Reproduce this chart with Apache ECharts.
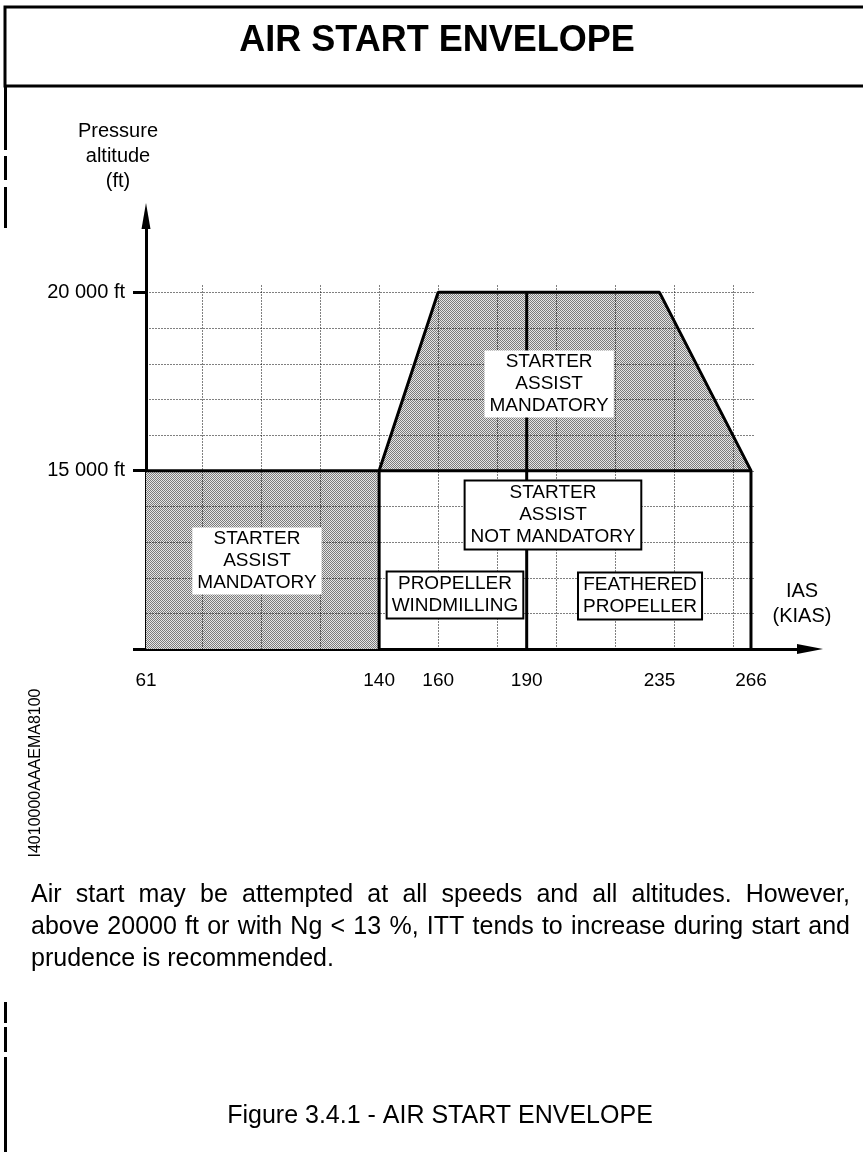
<!DOCTYPE html>
<html><head><meta charset="utf-8">
<script src="https://cdn.jsdelivr.net/npm/echarts@6/dist/echarts.min.js"></script>
<style>html,body{margin:0;padding:0;background:#fff}#c{width:863px;height:1152px}</style>
</head><body><div id="c"></div>
<script>
// ---------------- data ----------------
const xTickValues = [61, 140, 160, 190, 235, 266];          // KIAS tick labels
const yTickAltitudes = [15000, 20000];                       // ft
const yTickLabels = ['15 000 ft', '20 000 ft'];
const xGridKias = [80, 100, 120, 140, 160, 180, 200, 220, 240, 260];
const yGridAltitudes = [3000, 6000, 9000, 12000, 15000, 16000, 17000, 18000, 19000, 20000];
const gridTopAlt = 20250, gridRightKias = 267;
// starter assist mandatory zone (low speed)
const lowZoneKias = [61, 140, 140, 61];
const lowZoneAlt  = [0, 0, 15000, 15000];
// starter assist mandatory zone (high altitude)
const highZoneKias = [140, 160, 235, 266];
const highZoneAlt  = [15000, 20000, 20000, 15000];
// envelope boundaries
const envelopeKias = [140, 140, 160, 235, 266, 266];
const envelopeAlt  = [0, 15000, 20000, 20000, 15000, 0];
const baseLineKias = [61, 266];
const baseLineAlt  = [15000, 15000];
const splitKias = [190, 190];
const splitAlt  = [0, 20000];
// zone labels
const zoneLabelTexts = ['STARTER\nASSIST\nMANDATORY', 'STARTER\nASSIST\nMANDATORY',
  'STARTER\nASSIST\nNOT MANDATORY', 'PROPELLER\nWINDMILLING', 'FEATHERED\nPROPELLER'];
const zoneLabelBoxed = [false, false, true, true, true];
const titleText = 'AIR START ENVELOPE';
const captionText = 'Figure 3.4.1 - AIR START ENVELOPE';
const codeText = 'I4010000AAAEMA8100';
const noteLines = ['Air start may be attempted at all speeds and all altitudes. However,',
  'above 20000 ft or with Ng < 13 %, ITT tends to increase during start and',
  'prudence is recommended.'];

// ---------------- layout ----------------
const layout = {
  labelAnchorKias: [98.6, 197.6, 198.9, 165.7, 228.4],
  labelAnchorAlt: [7400, 17430, 11270, 4540, 4460],
  xMax: 286, yMax: 12.14
};
const FF = '"Liberation Sans", Arial, Helvetica, sans-serif';

// schematic (piecewise) altitude scale: 5 cells below 15 000 ft, 1 000 ft cells above
function altToUnit(a) { return a <= 15000 ? a / 3000 : 5 + (a - 15000) / 1000; }

function makePattern() {
  const c = document.createElement('canvas'); c.width = 4; c.height = 4;
  const g = c.getContext('2d');
  g.fillStyle = '#e6e6e6'; g.fillRect(0, 0, 4, 4);
  g.fillStyle = '#7c7c7c';
  for (let y = 0; y < 4; y++) for (let x = 0; x < 4; x++) if ((x + y) % 2 === 0) g.fillRect(x, y, 1, 1);
  return c;
}
const pattern = { image: makePattern(), repeat: 'repeat' };

function polygonSeries(kias, alt) {
  return {
    type: 'custom', silent: true, z: 1,
    data: kias.map((k, i) => [k, altToUnit(alt[i])]),
    renderItem: (params, api) => {
      if (params.dataIndex !== 0) return null;
      const pts = kias.map((k, i) => api.coord([k, altToUnit(alt[i])]));
      return { type: 'polygon', shape: { points: pts }, style: { fill: pattern } };
    }
  };
}
function segmentSeries(segs, style, z) {
  return {
    type: 'custom', silent: true, z: z, data: segs, encode: { x: [0, 2], y: [1, 3] },
    renderItem: (params, api) => {
      const a = api.coord([api.value(0), api.value(1)]);
      const b = api.coord([api.value(2), api.value(3)]);
      return { type: 'line', shape: { x1: Math.round(a[0]) + 0.5, y1: Math.round(a[1]) + 0.5, x2: Math.round(b[0]) + 0.5, y2: Math.round(b[1]) + 0.5 }, style: style };
    }
  };
}
function lineSeries(kias, alt, width) {
  return {
    type: 'line', silent: true, z: 3, symbol: 'none', animation: false,
    data: kias.map((k, i) => [k, altToUnit(alt[i])]),
    lineStyle: { color: '#000', width: width }
  };
}

const gridSegs = xGridKias.map(k => [k, 0, k, altToUnit(gridTopAlt)])
  .concat(yGridAltitudes.map(a => [61, altToUnit(a), gridRightKias, altToUnit(a)]));

const labelSeries = {
  type: 'custom', silent: true, z: 5,
  data: layout.labelAnchorKias.map((k, i) => [k, altToUnit(layout.labelAnchorAlt[i])]),
  renderItem: (params, api) => {
    const i = params.dataIndex;
    const p = api.coord([api.value(0), api.value(1)]);
    const boxed = zoneLabelBoxed[i];
    const lines = zoneLabelTexts[i].split('\n').length;
    return {
      type: 'text', x: p[0], y: p[1],
      style: {
        text: zoneLabelTexts[i], font: '19px ' + FF, fill: '#000',
        align: 'center', verticalAlign: 'middle', lineHeight: 22,
        backgroundColor: '#fff', borderColor: boxed ? '#000' : 'transparent', borderWidth: boxed ? 2 : 0,
        padding: lines === 3 ? [1, 5, 0, 5] : [1, 4, 0, 4]
      }
    };
  }
};

// ---------------- graphics (page furniture) ----------------
const measureCtx = document.createElement('canvas').getContext('2d');
const paraFont = '25px ' + FF;
function lineWords(text, y, x0, x1, justify) {
  measureCtx.font = paraFont;
  const words = text.split(' ');
  const w = words.map(s => measureCtx.measureText(s).width);
  const tot = w.reduce((a, b) => a + b, 0);
  const sp = justify ? (x1 - x0 - tot) / (words.length - 1) : measureCtx.measureText(' ').width;
  let x = x0; const out = [];
  words.forEach((s, i) => {
    out.push({ type: 'text', x: x, y: y, silent: true, style: { text: s, font: paraFont, fill: '#000', align: 'left', verticalAlign: 'middle' } });
    x += w[i] + sp;
  });
  return out;
}
const bar = (y1, y2) => ({ type: 'line', silent: true, shape: { x1: 5.5, y1: y1, x2: 5.5, y2: y2 }, style: { stroke: '#000', lineWidth: 3 } });

const graphics = [
  { type: 'rect', silent: true, shape: { x: 5, y: 7, width: 880, height: 79 }, style: { fill: 'none', stroke: '#000', lineWidth: 3 } },
  { type: 'text', x: 437, y: 41, silent: true, style: { text: titleText, font: 'bold 36px ' + FF, fill: '#000', align: 'center', verticalAlign: 'middle' } },
  bar(86, 150), bar(156, 180), bar(187, 228),
  bar(1002, 1023), bar(1027, 1052), bar(1057, 1152),
  { type: 'text', x: 36, y: 773, rotation: Math.PI / 2, silent: true, style: { text: codeText, font: '16px ' + FF, fill: '#000', align: 'center', verticalAlign: 'middle' } },
  { type: 'text', x: 440, y: 1116, silent: true, style: { text: captionText, font: '25px ' + FF, fill: '#000', align: 'center', verticalAlign: 'middle' } }
].concat(lineWords(noteLines[0], 895, 31, 850, true))
 .concat(lineWords(noteLines[1], 927, 31, 850, true))
 .concat(lineWords(noteLines[2], 959, 31, 850, false));

// ---------------- chart ----------------
const chart = echarts.init(document.getElementById('c'), null, { renderer: 'canvas' });
chart.setOption({
  animation: false,
  backgroundColor: '#fff',
  textStyle: { fontFamily: FF },
  grid: { left: 146, right: 53, top: 216, bottom: 503, containLabel: false, outerBoundsMode: 'none' },
  xAxis: {
    type: 'value', min: 61, max: layout.xMax,
    axisLine: { show: true, onZero: false, lineStyle: { color: '#000', width: 3 }, symbol: ['none', 'triangle'], symbolSize: [10, 26] },
    axisTick: { show: false },
    splitLine: { show: false },
    axisLabel: { customValues: xTickValues, margin: 22, fontSize: 19, color: '#000', fontFamily: FF, showMinLabel: true, showMaxLabel: true },
    name: 'IAS\n(KIAS)', nameLocation: 'end', nameGap: -8,
    nameTextStyle: { fontSize: 20, color: '#000', fontFamily: FF, align: 'center', verticalAlign: 'bottom', lineHeight: 25, padding: [0, 0, 20, 0] }
  },
  yAxis: {
    type: 'value', min: 0, max: layout.yMax,
    axisLine: { show: true, onZero: false, lineStyle: { color: '#000', width: 3 }, symbol: ['none', 'triangle'], symbolSize: [9, 26] },
    axisTick: { show: true, customValues: [0].concat(yTickAltitudes.map(altToUnit)), length: 13, lineStyle: { color: '#000', width: 3 } },
    splitLine: { show: false },
    axisLabel: {
      customValues: yTickAltitudes.map(altToUnit), margin: 21, fontSize: 20, color: '#000', fontFamily: FF,
      formatter: v => { const i = yTickAltitudes.findIndex(a => Math.abs(altToUnit(a) - v) < 1e-6); return i >= 0 ? yTickLabels[i] : ''; }
    },
    name: 'Pressure\naltitude\n(ft)', nameLocation: 'end', nameGap: 22,
    nameTextStyle: { fontSize: 20, color: '#000', fontFamily: FF, align: 'center', verticalAlign: 'bottom', lineHeight: 25, padding: [0, 56, 0, 0] }
  },
  graphic: graphics,
  series: [
    polygonSeries(lowZoneKias, lowZoneAlt),
    polygonSeries(highZoneKias, highZoneAlt),
    segmentSeries(gridSegs, { stroke: '#000', lineWidth: 1, lineDash: [1, 2] }, 2),
    lineSeries(envelopeKias, envelopeAlt, 3),
    lineSeries(baseLineKias, baseLineAlt, 3),
    lineSeries(splitKias, splitAlt, 3),
    labelSeries
  ]
});
</script></body></html>
